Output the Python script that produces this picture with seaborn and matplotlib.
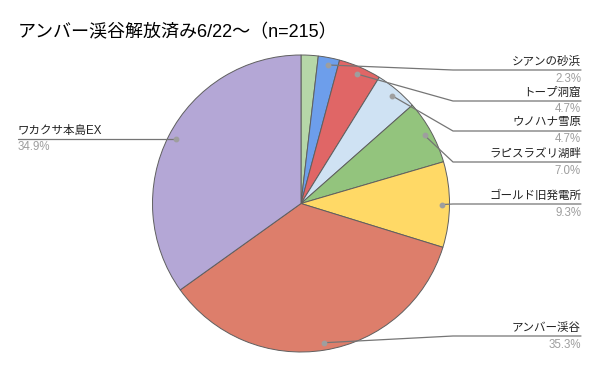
import numpy as np
import matplotlib
matplotlib.use("Agg")
import matplotlib.pyplot as plt
import seaborn as sns

# ======================================================
# Data
# ======================================================

title = "アンバー渓谷解放済み6/22～（n=215）"

categories = ["", "シアンの砂浜", "トープ洞窟", "ウノハナ雪原", "ラピスラズリ湖畔",
              "ゴールド旧発電所", "アンバー渓谷", "ワカクサ本島EX"]
counts = [4, 5, 10, 10, 15, 20, 76, 75]
total = 215

colors = ["#b6d7a8", "#6d9eeb", "#e06666", "#cfe2f3", "#93c47d",
          "#ffd966", "#dd7e6b", "#b4a7d6"]

# label line heights in pixels from the top (layout only)
label_line_px = {1: 70, 2: 101, 3: 131, 4: 162, 5: 204, 6: 336, 7: 139}

# ======================================================
# Style
# ======================================================

sns.set_theme(style="white")
plt.rcParams["font.family"] = ["Liberation Sans", "Noto Sans CJK JP", "DejaVu Sans"]

W, H = 600, 371
fig = plt.figure(figsize=(6, 3.71), dpi=100)
ax = fig.add_axes([0, 0, 1, 1])

cx, cy, r = 301, H - 203.5, 148.5

wedges, _ = ax.pie(
    counts,
    colors=colors,
    startangle=90,
    counterclock=False,
    center=(cx, cy),
    radius=r,
    wedgeprops=dict(edgecolor="#5f5f5f", linewidth=0.7),
)

ax.set_xlim(0, W)
ax.set_ylim(0, H)
ax.set_aspect("auto")
ax.axis("off")

# ======================================================
# Labels with leader lines
# ======================================================

elbow_x = 453
right_x = 581
left_x = 18
fs = 8.3

for i, w in enumerate(wedges):
    if not categories[i]:
        continue
    mid = np.deg2rad((w.theta1 + w.theta2) / 2)
    dx = cx + 0.95 * r * np.cos(mid)
    dy = cy + 0.95 * r * np.sin(mid)
    ly = H - label_line_px[i]
    pct = f"{counts[i] / total * 100:.1f}%"

    ax.plot(dx, dy, "o", color="#9e9e9e", markersize=3.2, zorder=5)

    if dx > cx:
        ax.plot([dx, elbow_x, right_x], [dy, ly, ly], color="#757575", lw=0.9, zorder=4)
        ax.text(right_x, ly + 8.5, categories[i], ha="right", va="center",
                fontsize=fs, color="#222222")
        ax.text(right_x, ly - 8.5, pct, ha="right", va="center",
                fontsize=fs, color="#9e9e9e")
    else:
        ax.plot([dx, left_x], [ly, ly], color="#757575", lw=0.9, zorder=4)
        ax.text(left_x, ly + 8.5, categories[i], ha="left", va="center",
                fontsize=fs, color="#222222")
        ax.text(left_x, ly - 8.5, pct, ha="left", va="center",
                fontsize=fs, color="#9e9e9e")

ax.text(18, H - 33, title, ha="left", va="center", fontsize=13, color="#000000")

fig.savefig("out.png", dpi=100)
